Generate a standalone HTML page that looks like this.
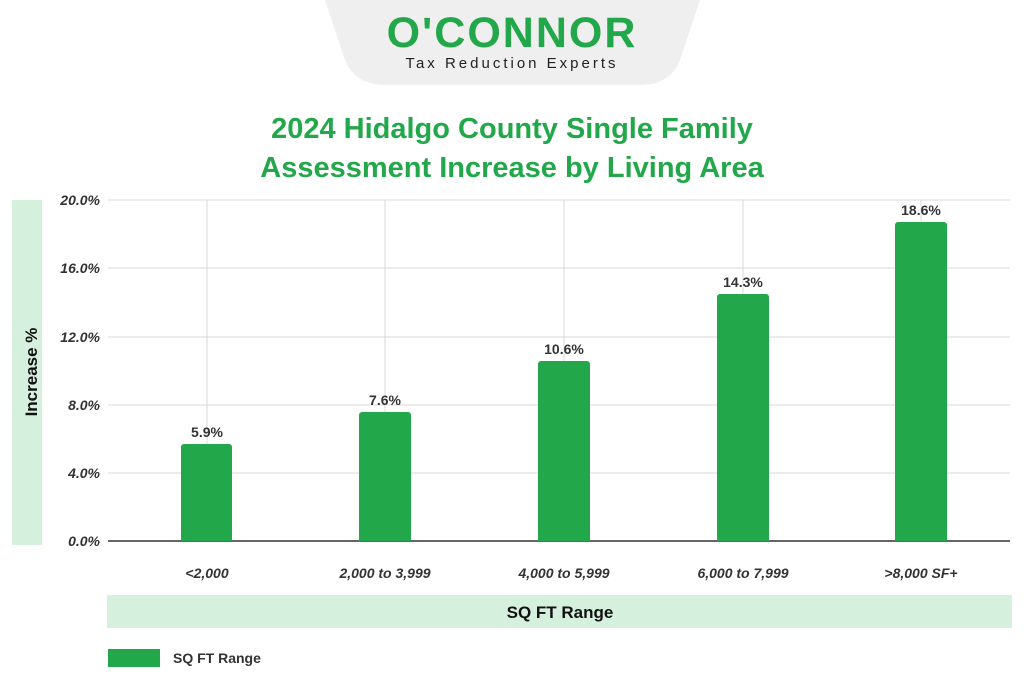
<!DOCTYPE html>
<html><head><style>
body{margin:0;background:#fff;width:1024px;height:685px;overflow:hidden;font-family:"Liberation Sans",sans-serif;}
</style></head><body>
<svg width="1024" height="685" xmlns="http://www.w3.org/2000/svg" font-family="Liberation Sans, sans-serif">
<path d="M325,0 L700,0 L680,60 Q670,85 640,85 L385,85 Q355,85 345,60 Z" fill="#efefef"/>
<text x="512" y="47" text-anchor="middle" font-size="43" font-weight="bold" fill="#22a84a" letter-spacing="2">O'CONNOR</text>
<text x="512" y="68" text-anchor="middle" font-size="15" fill="#222" letter-spacing="3">Tax Reduction Experts</text>
<text x="512" y="138" text-anchor="middle" font-size="29" font-weight="bold" fill="#22a84a">2024 Hidalgo County Single Family</text>
<text x="512" y="177" text-anchor="middle" font-size="29" font-weight="bold" fill="#22a84a">Assessment Increase by Living Area</text>
<rect x="12" y="200" width="30" height="345" fill="#d5f0dc"/>
<text transform="translate(37,372) rotate(-90)" text-anchor="middle" font-size="17" font-weight="bold" fill="#111">Increase %</text>
<g stroke="#d8d8d8" stroke-width="1">
<line x1="108" y1="200" x2="1010" y2="200"/><line x1="108" y1="268" x2="1010" y2="268"/>
<line x1="108" y1="337" x2="1010" y2="337"/><line x1="108" y1="405" x2="1010" y2="405"/>
<line x1="108" y1="473" x2="1010" y2="473"/>
<line x1="207" y1="200" x2="207" y2="541"/><line x1="385" y1="200" x2="385" y2="541"/>
<line x1="564" y1="200" x2="564" y2="541"/><line x1="743" y1="200" x2="743" y2="541"/>
<line x1="921" y1="200" x2="921" y2="541"/>
</g>
<line x1="108" y1="541" x2="1010" y2="541" stroke="#333" stroke-width="1.5"/>
<g font-size="14" font-style="italic" font-weight="bold" fill="#333" text-anchor="end">
<text x="100" y="205">20.0%</text><text x="100" y="273">16.0%</text><text x="100" y="342">12.0%</text>
<text x="100" y="410">8.0%</text><text x="100" y="478">4.0%</text><text x="100" y="546">0.0%</text>
</g>
<g fill="#22a84a">
<path d="M181,541 V447 a3,3 0 0 1 3,-3 H229 a3,3 0 0 1 3,3 V541Z"/>
<path d="M359,541 V415 a3,3 0 0 1 3,-3 H408 a3,3 0 0 1 3,3 V541Z"/>
<path d="M538,541 V364 a3,3 0 0 1 3,-3 H587 a3,3 0 0 1 3,3 V541Z"/>
<path d="M717,541 V297 a3,3 0 0 1 3,-3 H766 a3,3 0 0 1 3,3 V541Z"/>
<path d="M895,541 V225 a3,3 0 0 1 3,-3 H944 a3,3 0 0 1 3,3 V541Z"/>
</g>
<g font-size="14" font-weight="bold" fill="#333" text-anchor="middle">
<text x="207" y="437">5.9%</text><text x="385" y="405">7.6%</text><text x="564" y="354">10.6%</text>
<text x="743" y="287">14.3%</text><text x="921" y="215">18.6%</text>
</g>
<g font-size="14" font-style="italic" font-weight="bold" fill="#333" text-anchor="middle">
<text x="207" y="578">&lt;2,000</text><text x="385" y="578">2,000 to 3,999</text><text x="564" y="578">4,000 to 5,999</text>
<text x="743" y="578">6,000 to 7,999</text><text x="921" y="578">&gt;8,000 SF+</text>
</g>
<rect x="107" y="595" width="905" height="33" fill="#d5f0dc"/>
<text x="560" y="618" text-anchor="middle" font-size="17" font-weight="bold" fill="#111">SQ FT Range</text>
<rect x="108" y="649" width="52" height="18" fill="#22a84a"/>
<text x="173" y="663" font-size="14" font-weight="bold" fill="#333">SQ FT Range</text>
</svg>
</body></html>
